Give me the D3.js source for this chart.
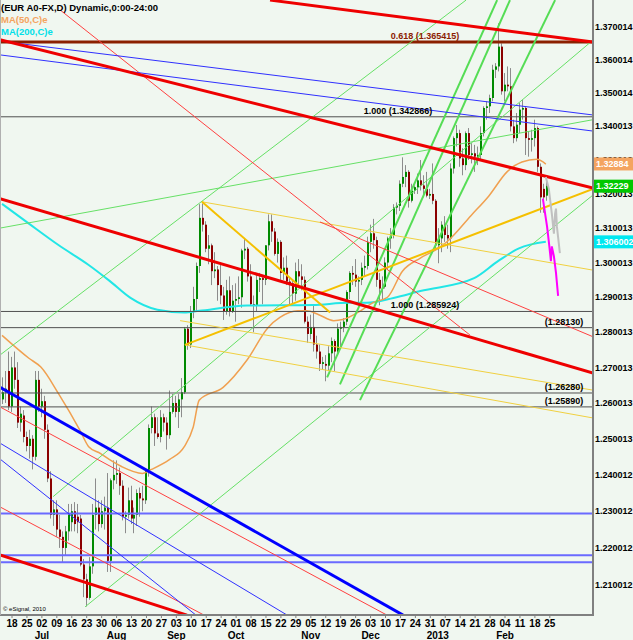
<!DOCTYPE html>
<html><head><meta charset="utf-8">
<script src="https://cdn.jsdelivr.net/npm/d3@7"></script>
<style>
html,body{margin:0;padding:0;background:#f0f7f0;}
svg{display:block;font-family:"Liberation Sans",Arial,sans-serif;}
</style></head><body>
<svg id="c" width="633" height="640"></svg>
<script>
// ---- DATA (trading-day index: 0 = Mon 18 Jun 2012) ----
const firstDay = -2;
const opens=[1.2610,1.2630,1.2690,1.2590,1.2700,1.2665,1.2545,1.2565,1.2505,1.2480,1.2500,1.2450,
1.2665,1.2590,1.2605,1.2525,1.2390,1.2290,1.2305,1.2250,1.2230,1.2200,
1.2245,1.2270,1.2300,1.2285,1.2280,1.2155,1.2115,1.2065,1.2150,1.2290,
1.2310,1.2265,1.2300,1.2310,1.2165,1.2385,1.2400,1.2405,1.2370,1.2285,
1.2290,1.2330,1.2280,1.2290,1.2350,1.2335,1.2330,1.2410,1.2530,1.2560,
1.2515,1.2505,1.2560,1.2545,1.2510,1.2575,1.2600,1.2575,1.2610,1.2630,
1.2810,1.2765,1.2860,1.2895,1.2990,1.3130,1.3110,1.3040,1.3050,1.2975,
1.2980,1.2935,1.2905,1.2860,1.2920,1.2860,1.2890,1.2895,1.2900,1.3035,
1.3040,1.2960,1.2880,1.2875,1.2950,1.2955,1.2950,1.3050,1.3120,1.3090,
1.3025,1.3060,1.2970,1.2985,1.2945,1.2940,1.2910,1.2975,1.2960,1.2950,
1.2830,1.2795,1.2815,1.2765,1.2745,1.2710,1.2710,1.2705,1.2740,1.2775,
1.2745,1.2810,1.2815,1.2830,1.2915,1.2970,1.2965,1.2945,1.2950,1.2985,
1.2990,1.3060,1.3085,1.3065,1.2950,1.2925,1.2930,1.3000,1.3070,1.3080,
1.3160,1.3165,1.3230,1.3250,1.3265,1.3180,1.3210,1.3220,1.3240,1.3225,
1.3215,1.3195,1.3200,1.3180,1.3050,1.3070,1.3110,1.3080,1.3070,1.3275,
1.3365,1.3380,1.3305,1.3285,1.3380,1.3315,1.3320,1.3310,1.3315,1.3380,
1.3455,1.3460,1.3485,1.3570,1.3580,1.3640,1.3505,1.3525,1.3520,1.3400,
1.3365,1.3405,1.3450,1.3455,1.3365,1.3360,1.3365,1.3395,1.3280,1.3215,1.3195];
const highs=[1.2672,1.2690,1.2745,1.2730,1.2745,1.2715,1.2590,1.2580,1.2520,1.2525,1.2510,1.2690,
1.2690,1.2640,1.2620,1.2540,1.2410,1.2330,1.2330,1.2290,1.2245,1.2260,
1.2320,1.2320,1.2325,1.2320,1.2290,1.2170,1.2130,1.2175,1.2320,1.2390,
1.2330,1.2330,1.2340,1.2405,1.2390,1.2440,1.2440,1.2420,1.2385,1.2300,
1.2365,1.2370,1.2310,1.2360,1.2365,1.2370,1.2415,1.2540,1.2590,1.2570,
1.2560,1.2580,1.2570,1.2560,1.2635,1.2625,1.2620,1.2625,1.2670,1.2815,
1.2820,1.2875,1.2930,1.3000,1.3170,1.3172,1.3120,1.3080,1.3055,1.3030,
1.2990,1.3000,1.2930,1.2950,1.2960,1.2935,1.2940,1.2960,1.3040,1.3070,
1.3045,1.2995,1.2905,1.2965,1.2970,1.2960,1.3050,1.3140,1.3140,1.3100,
1.3070,1.3065,1.3015,1.3020,1.2955,1.2950,1.3000,1.3010,1.2995,1.2960,
1.2845,1.2850,1.2880,1.2790,1.2765,1.2730,1.2735,1.2760,1.2785,1.2780,
1.2825,1.2830,1.2840,1.2920,1.2975,1.2990,1.3010,1.2960,1.3000,1.3020,
1.3075,1.3110,1.3127,1.3075,1.2970,1.2960,1.3015,1.3075,1.3100,1.3170,
1.3175,1.3240,1.3308,1.3285,1.3270,1.3230,1.3225,1.3260,1.3300,1.3255,
1.3265,1.3215,1.3290,1.3185,1.3100,1.3120,1.3135,1.3110,1.3290,1.3370,
1.3404,1.3390,1.3335,1.3385,1.3395,1.3350,1.3345,1.3340,1.3400,1.3460,
1.3475,1.3495,1.3585,1.3590,1.3711,1.3650,1.3560,1.3580,1.3575,1.3420,
1.3440,1.3470,1.3480,1.3460,1.3385,1.3390,1.3420,1.3400,1.3290,1.3230,1.3245];
const lows=[1.2597,1.2600,1.2580,1.2575,1.2640,1.2530,1.2520,1.2490,1.2465,1.2445,1.2415,1.2440,
1.2575,1.2560,1.2500,1.2380,1.2280,1.2260,1.2230,1.2200,1.2160,1.2180,
1.2220,1.2245,1.2245,1.2240,1.2150,1.2067,1.2042,1.2060,1.2130,1.2250,
1.2245,1.2255,1.2250,1.2135,1.2135,1.2360,1.2375,1.2345,1.2275,1.2240,
1.2280,1.2265,1.2240,1.2260,1.2285,1.2300,1.2320,1.2395,1.2515,1.2480,
1.2500,1.2490,1.2520,1.2470,1.2500,1.2570,1.2560,1.2530,1.2560,1.2625,
1.2750,1.2755,1.2840,1.2860,1.2970,1.3090,1.3030,1.2995,1.2935,1.2955,
1.2890,1.2880,1.2835,1.2850,1.2845,1.2855,1.2830,1.2880,1.2870,1.3010,
1.2945,1.2875,1.2800,1.2860,1.2915,1.2880,1.2935,1.3035,1.3060,1.3020,
1.3000,1.2950,1.2950,1.2935,1.2880,1.2880,1.2890,1.2935,1.2920,1.2825,
1.2770,1.2780,1.2745,1.2725,1.2690,1.2695,1.2661,1.2690,1.2715,1.2690,
1.2740,1.2760,1.2800,1.2820,1.2895,1.2935,1.2930,1.2880,1.2935,1.2960,
1.2980,1.3030,1.3040,1.2930,1.2877,1.2895,1.2925,1.2980,1.3040,1.3070,
1.3140,1.3150,1.3220,1.3220,1.3160,1.3175,1.3200,1.3200,1.3210,1.3190,
1.3190,1.3185,1.3170,1.3040,1.2998,1.3030,1.3060,1.3040,1.3030,1.3260,
1.3340,1.3280,1.3255,1.3270,1.3300,1.3290,1.3265,1.3285,1.3300,1.3370,
1.3420,1.3440,1.3475,1.3545,1.3565,1.3495,1.3475,1.3505,1.3385,1.3350,
1.3355,1.3380,1.3420,1.3315,1.3310,1.3325,1.3340,1.3265,1.3145,1.3145,1.3180];
const closes=[1.2630,1.2640,1.2590,1.2700,1.2665,1.2545,1.2570,1.2505,1.2480,1.2500,1.2450,1.2665,
1.2590,1.2605,1.2525,1.2390,1.2290,1.2305,1.2250,1.2230,1.2200,1.2245,
1.2290,1.2300,1.2265,1.2270,1.2155,1.2115,1.2065,1.2150,1.2290,1.2310,
1.2265,1.2300,1.2310,1.2165,1.2385,1.2400,1.2405,1.2370,1.2285,1.2290,
1.2330,1.2280,1.2290,1.2350,1.2335,1.2330,1.2410,1.2530,1.2560,1.2515,
1.2505,1.2560,1.2545,1.2510,1.2575,1.2600,1.2575,1.2610,1.2630,1.2810,
1.2765,1.2860,1.2895,1.2990,1.3130,1.3110,1.3040,1.3050,1.2975,1.2980,
1.2935,1.2905,1.2860,1.2920,1.2860,1.2890,1.2895,1.2900,1.3035,1.3040,
1.2960,1.2880,1.2875,1.2950,1.2955,1.2950,1.3050,1.3120,1.3090,1.3025,
1.3060,1.2970,1.2985,1.2945,1.2940,1.2910,1.2975,1.2960,1.2950,1.2830,
1.2795,1.2815,1.2765,1.2745,1.2710,1.2715,1.2705,1.2740,1.2775,1.2745,
1.2810,1.2815,1.2830,1.2915,1.2970,1.2965,1.2945,1.2950,1.2985,1.2990,
1.3060,1.3085,1.3065,1.2950,1.2925,1.2930,1.3000,1.3070,1.3080,1.3160,
1.3165,1.3230,1.3250,1.3265,1.3180,1.3210,1.3220,1.3240,1.3225,1.3215,
1.3195,1.3200,1.3180,1.3050,1.3070,1.3110,1.3080,1.3070,1.3275,1.3365,
1.3380,1.3305,1.3285,1.3380,1.3315,1.3320,1.3310,1.3315,1.3380,1.3455,
1.3460,1.3485,1.3570,1.3580,1.3640,1.3505,1.3525,1.3520,1.3400,1.3365,
1.3405,1.3450,1.3455,1.3365,1.3360,1.3365,1.3395,1.3280,1.3190,1.3190,1.3223];

const ma50Days=[-2,7,11,17,24,27,31,34,38,45,48,54,59,62,64,72,80,87,91,97,100,104,109,112,118,122,127,132,138,144,147,155,161,167,172,177,180];
const ma50Vals=[1.2791,1.2726,1.2701,1.2625,1.2525,1.2478,1.2459,1.2442,1.2423,1.2404,1.2415,1.2442,1.2478,1.2533,1.2608,1.2644,1.2721,1.2813,1.2842,1.2861,1.2861,1.2850,1.2833,1.2836,1.2861,1.2884,1.2900,1.2975,1.3013,1.3041,1.3061,1.3137,1.3195,1.3265,1.3294,1.3302,1.3288];
const ma200Days=[-2,7,17,27,34,41,50,59,64,80,102,114,120,129,138,156,164,171,180];
const ma200Vals=[1.3171,1.3113,1.3050,1.2993,1.2947,1.2898,1.2864,1.2856,1.2861,1.2876,1.2878,1.2884,1.2884,1.2898,1.2918,1.2955,1.3004,1.3041,1.3060];

const pinkDays=[179.0,180.4,181.0,181.7,182.0,182.7,183.4,184.1];
const pinkVals=[1.3186,1.3105,1.3061,1.3004,1.3047,1.3018,1.2970,1.2904];
const grayDays=[180.0,181.0,182.0,182.7,183.1,183.4,183.7,184.7];
const grayVals=[1.3250,1.3215,1.3142,1.3084,1.3142,1.3157,1.3105,1.3027];

// trendlines: [day1, price1, day2, price2]
const redThickLines=[[87.7,1.3782,195.8,1.3654],[-2.7,1.3661,195.8,1.3217],[-2.7,1.3186,195.8,1.2684],[-2.7,1.2181,59.9,1.2019]];
const redThinLines=[[-2.7,1.2589,126.8,1.2019],[-2.7,1.2312,65.6,1.2019],[17.4,1.3752,154.6,1.2792],[104.4,1.3118,195.8,1.2787]];
const blueThickLines=[[-2.7,1.2644,132.2,1.2019]];
const blueThinLines=[[-2.7,1.2488,93.4,1.2019],[2.3,1.3651,195.8,1.3434],[-2.7,1.3615,195.8,1.3386],[-2.7,1.2444,62.9,1.2019]];
const blueLevels=[1.2294,1.2180,1.2161];
const goldLines=[[59.2,1.2764,195.8,1.3215],[64.9,1.3177,107.8,1.2856]];
const yellowLines=[[64.9,1.3177,195.8,1.2978],[57.6,1.2833,195.8,1.2636],[59.2,1.2764,195.8,1.2558]];
const greenThinLines=[[-2.7,1.3100,195.8,1.3420],[-2.7,1.2735,153.3,1.3782],[15.1,1.2340,195.8,1.3660],[25.8,1.2041,195.8,1.3197]];
const greenBrightLines=[[106.8,1.2672,163.7,1.3782],[111.1,1.2652,168.0,1.3782],[117.8,1.2608,183.1,1.3782]];

const fibLevel=1.365415, fibText="0.618 (1.365415)", fibTextDay=151;
const levelVals=[1.342866,1.285924,1.28130,1.26280,1.25890];
const levelTexts=["1.000 (1.342866)","1.000 (1.285924)","(1.28130)","(1.26280)","(1.25890)"];
const levelTextDays=[142,151,192.5,192.5,192.5];

const yTicks=[1.370014,1.360014,1.350014,1.340013,1.330013,1.320013,1.310013,1.300013,1.290013,1.280013,1.270013,1.260013,1.250013,1.240012,1.230012,1.220012,1.210012];
const weekLabels=["18","25","02","09","16","23","30","06","13","20","27","03","10","17","24","01","08","15","22","29","05","12","19","26","03","10","17","24","31","07","14","21","28","04","11","18","25"];
const monthLabels=["Jul","Aug","Sep","Oct","Nov","Dec","2013","Feb"];
const monthWeeks=[2,7,11,15,20,24,28.5,33];
const lastLabels=[{t:"1.32884",v:1.32884,c:"#f4a460"},{t:"1.32229",v:1.32229,c:"#00c800"},{t:"1.306002",v:1.306002,c:"#00e8f0"}];

// ---- CHART ----
const svg=d3.select("#c");
const plotR=593, plotB=615;
const x=d3.scaleLinear().domain([0,180]).range([8,545.84]);
const y=d3.scaleLog().domain([1.21,1.37]).range([584.9,26.9]);

svg.append("rect").attr("width",633).attr("height",640).attr("fill","#f0f7f0");
svg.append("clipPath").attr("id","clip").append("rect").attr("x",0).attr("y",0).attr("width",plotR).attr("height",plotB);
const g=svg.append("g").attr("clip-path","url(#clip)");

// candles
const candles=opens.map((o,k)=>({d:firstDay+k,o,h:highs[k],l:lows[k],c:closes[k]}));
const cg=g.append("g");
cg.selectAll("line").data(candles).join("line")
  .attr("x1",d=>Math.round(x(d.d))+0.5).attr("x2",d=>Math.round(x(d.d))+0.5)
  .attr("y1",d=>y(d.h)).attr("y2",d=>y(d.l))
  .attr("stroke","#8c8c8c").attr("stroke-width",1);
cg.selectAll("rect").data(candles).join("rect")
  .attr("x",d=>Math.round(x(d.d))).attr("width",2)
  .attr("y",d=>y(Math.max(d.o,d.c))).attr("height",d=>Math.max(1,y(Math.min(d.o,d.c))-y(Math.max(d.o,d.c))))
  .attr("fill",d=>d.c>=d.o?"#008a00":"#8b0000");

// MAs
const lineGen=d3.line().x(d=>x(d[0])).y(d=>y(d[1])).curve(d3.curveMonotoneX);
g.append("path").attr("d",lineGen(ma200Days.map((d,k)=>[d,ma200Vals[k]]))).attr("fill","none").attr("stroke","#22e6e6").attr("stroke-width",2);
g.append("path").attr("d",lineGen(ma50Days.map((d,k)=>[d,ma50Vals[k]]))).attr("fill","none").attr("stroke","#f0a050").attr("stroke-width",1.5);

// horizontal levels
function hline(v,color,w){g.append("line").attr("x1",0).attr("x2",plotR).attr("y1",y(v)).attr("y2",y(v)).attr("stroke",color).attr("stroke-width",w);}
blueLevels.forEach(v=>hline(v,"#6a6aff",2));
levelVals.forEach(v=>hline(v,"#505050",1));
hline(fibLevel,"#8b2000",3);

// trendlines
function tl(arr,color,w){g.append("g").selectAll("line").data(arr).join("line")
  .attr("x1",d=>x(d[0])).attr("y1",d=>y(d[1])).attr("x2",d=>x(d[2])).attr("y2",d=>y(d[3]))
  .attr("stroke",color).attr("stroke-width",w);}
tl(greenThinLines,"#66e066",1);
tl(greenBrightLines,"#55dd55",2);
tl(yellowLines,"#f0d040",1);
tl(goldLines,"#f5c000",2);
tl(redThinLines,"#ff4040",1);
tl(blueThinLines,"#3030ff",1);
tl(blueThickLines,"#0000ff",3);
tl(redThickLines,"#ee0000",3);

// forecast lines
const pl=d3.line().x(d=>x(d[0])).y(d=>y(d[1]));
g.append("path").attr("d",pl(grayDays.map((d,k)=>[d,grayVals[k]]))).attr("fill","none").attr("stroke","#c0c0c0").attr("stroke-width",2);
g.append("path").attr("d",pl(pinkDays.map((d,k)=>[d,pinkVals[k]]))).attr("fill","none").attr("stroke","#ff00ff").attr("stroke-width",2);

// level texts
g.append("text").attr("x",x(fibTextDay)).attr("y",y(fibLevel)-3).attr("text-anchor","end").attr("font-size",9).attr("font-weight","bold").attr("fill","#8b2000").text(fibText);
levelVals.forEach((v,k)=>g.append("text").attr("x",x(levelTextDays[k])).attr("y",y(v)-3).attr("text-anchor","end").attr("font-size",9).attr("font-weight","bold").attr("fill","#000").text(levelTexts[k]));

// header
svg.append("text").attr("x",1).attr("y",11).attr("font-size",9.5).attr("font-weight","bold").attr("fill","#000").text("(EUR A0-FX,D) Dynamic,0:00-24:00");
svg.append("text").attr("x",1).attr("y",22.5).attr("font-size",9.5).attr("font-weight","bold").attr("fill","#f4a460").text("MA(50,C)e");
svg.append("text").attr("x",1).attr("y",34.5).attr("font-size",9.5).attr("font-weight","bold").attr("fill","#00e0e8").text("MA(200,C)e");
svg.append("text").attr("x",3).attr("y",611).attr("font-size",6).attr("fill","#000").text("© eSignal, 2010");

// frame
svg.append("line").attr("x1",plotR).attr("x2",plotR).attr("y1",0).attr("y2",plotB).attr("stroke","#808080").attr("stroke-width",2);
svg.append("line").attr("x1",0).attr("x2",plotR+1).attr("y1",plotB).attr("y2",plotB).attr("stroke","#808080").attr("stroke-width",2);
svg.append("line").attr("x1",0.5).attr("x2",0.5).attr("y1",0).attr("y2",plotB).attr("stroke","#b0b0b0").attr("stroke-width",1);

// y axis labels
svg.append("g").selectAll("text").data(yTicks).join("text")
  .attr("x",595).attr("y",d=>y(d)).attr("dy","0.35em").attr("font-size",9).attr("font-weight","bold").attr("fill","#000").text(d=>d.toFixed(6));
lastLabels.forEach(L=>{
  const yy=y(L.v);
  svg.append("rect").attr("x",594).attr("y",yy-6.5).attr("width",39).attr("height",13).attr("fill",L.c);
  svg.append("text").attr("x",596).attr("y",yy).attr("dy","0.35em").attr("font-size",9).attr("font-weight","bold").attr("fill","#fff").text(L.t);
});

// x axis
const ax=svg.append("g");
weekLabels.forEach((t,k)=>{
  const xx=x(k*5)+4;
  ax.append("line").attr("x1",xx).attr("x2",xx).attr("y1",plotB).attr("y2",plotB+3).attr("stroke","#808080");
  ax.append("text").attr("x",xx).attr("y",627).attr("text-anchor","middle").attr("font-size",10).attr("font-weight","bold").attr("fill","#000").text(t);
});
monthLabels.forEach((t,k)=>{
  ax.append("text").attr("x",x(monthWeeks[k]*5)+4).attr("y",639).attr("text-anchor","middle").attr("font-size",10).attr("font-weight","bold").attr("fill","#000").text(t);
});
</script>
</body></html>
